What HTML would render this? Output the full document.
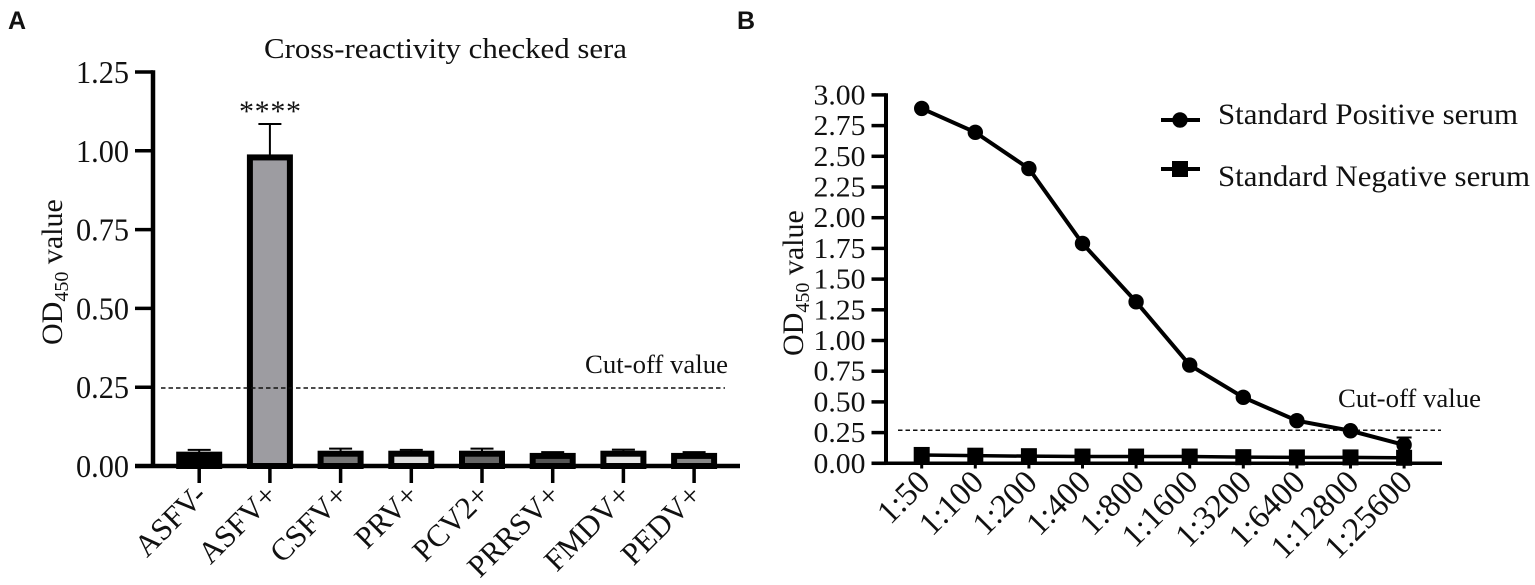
<!DOCTYPE html>
<html>
<head>
<meta charset="utf-8">
<title>Cross-reactivity and standard serum charts</title>
<style>
html,body{margin:0;padding:0;background:#fff;width:1535px;height:585px;overflow:hidden}
svg{display:block}
text{font-family:"Liberation Serif",serif;fill:#111}
.panel{font-family:"Liberation Sans",sans-serif;font-weight:bold;font-size:25px}
</style>
</head>
<body>
<svg id="figure" width="1535" height="585" viewBox="0 0 1535 585" xmlns="http://www.w3.org/2000/svg">
  <g id="a"></g>
  <g id="b"></g>
  <text class="panel" x="8" y="29">A</text>
  <text class="panel" x="737" y="29">B</text>
  <text x="264" y="58" font-size="29" textLength="363" lengthAdjust="spacingAndGlyphs">Cross-reactivity checked sera</text>
  <text x="270" y="121" font-size="30" text-anchor="middle" textLength="62">****</text>
  <text x="585" y="373" font-size="26" textLength="143" lengthAdjust="spacingAndGlyphs">Cut-off value</text>
  <text transform="translate(62,345) rotate(-90)" font-size="30">OD<tspan font-size="20" dy="6">450</tspan><tspan dy="-6"> value</tspan></text>
  <text x="1338" y="407" font-size="26" textLength="143" lengthAdjust="spacingAndGlyphs">Cut-off value</text>
  <text transform="translate(803,356) rotate(-90)" font-size="30">OD<tspan font-size="20" dy="6">450</tspan><tspan dy="-6"> value</tspan></text>

  <g>
    <line x1="1161" x2="1200" y1="120" y2="120" stroke="#000" stroke-width="4"></line>
    <circle cx="1180" cy="120" r="7.7" fill="#000"></circle>
    <text x="1218" y="124" font-size="30" textLength="300" lengthAdjust="spacingAndGlyphs">Standard Positive serum</text>
  </g>
  <g>
    <line x1="1161" x2="1200" y1="169" y2="169" stroke="#000" stroke-width="4"></line>
    <rect x="1172" y="161" width="16" height="16" fill="#000"></rect>
    <text x="1218" y="186" font-size="30" textLength="312" lengthAdjust="spacingAndGlyphs">Standard Negative serum</text>
  </g>
</svg>
<script>
var barCategories = ['ASFV-','ASFV+','CSFV+','PRV+','PCV2+','PRRSV+','FMDV+','PEDV+'];
var barValues = [0.036,0.979,0.039,0.039,0.039,0.032,0.039,0.032];
var barErrorTops = [0.051,1.085,0.055,0.051,0.055,0.044,0.052,0.044];
var barFills = ['#000000','#9d9ca1','#777777','#dddddd','#666666','#555555','#e6e6e6','#888888'];
var barTicks = ['0.00','0.25','0.50','0.75','1.00','1.25'];
var barCutoff = 0.2475;

var lineCategories = ['1:50','1:100','1:200','1:400','1:800','1:1600','1:3200','1:6400','1:12800','1:25600'];
var positiveValues = [2.89,2.695,2.40,1.79,1.315,0.80,0.537,0.347,0.265,0.15];
var negativeValues = [0.068,0.062,0.058,0.055,0.055,0.055,0.05,0.048,0.048,0.045];
var positiveErrorTops = [2.89,2.695,2.40,1.79,1.315,0.80,0.537,0.347,0.265,0.21];
var lineTicks = ['0.00','0.25','0.50','0.75','1.00','1.25','1.50','1.75','2.00','2.25','2.50','2.75','3.00'];
var lineCutoff = 0.269;

var NS = 'http://www.w3.org/2000/svg';
function mk(parent, tag, attrs, txt){
  var el = document.createElementNS(NS, tag);
  for (var k in attrs) el.setAttribute(k, attrs[k]);
  if (txt !== undefined) el.textContent = txt;
  parent.appendChild(el);
  return el;
}

/* Panel A */
var A = document.getElementById('a');
function ax(i){ return 199.2 + i * 70.7; }
function ay(v){ return 466 - v * 315.2; }
var el;
barTicks.forEach(function(t){
  var y = ay(parseFloat(t));
  el = mk(A,'line',{x1:135,x2:153,y1:y,y2:y,stroke:'#000','stroke-width':3.5});
  
  
  el = mk(A,'text',{x:129,y:y+11,'font-size':32,'text-anchor':'end',textLength:53,lengthAdjust:'spacingAndGlyphs'},t);
  
  
});
barCategories.forEach(function(c,i){
  var x = ax(i);
  var barW = 40;
  var top = ay(barValues[i]);
  el = mk(A,'line',{x1:x,x2:x,y1:top,y2:ay(barErrorTops[i]),stroke:'#000','stroke-width':2});
  
  
  el = mk(A,'line',{x1:x-11.5,x2:x+11.5,y1:ay(barErrorTops[i]),y2:ay(barErrorTops[i]),stroke:'#000','stroke-width':2});
  
  
  el = mk(A,'rect',{x:x-barW/2,y:top,width:barW,height:ay(0)-top,fill:barFills[i],stroke:'#000','stroke-width':6});
  
  
  el = mk(A,'line',{x1:x,x2:x,y1:466,y2:483,stroke:'#000','stroke-width':3.5});
  
  
  el = mk(A,'text',{transform:'translate('+(x+9)+',497) rotate(-45)','font-size':31,'text-anchor':'end'},c);
  
  
});
el = mk(A,'line',{x1:153,x2:153,y1:ay(1.25)-1.7,y2:468,stroke:'#000','stroke-width':4.5});


el = mk(A,'line',{x1:135,x2:740,y1:466,y2:466,stroke:'#000','stroke-width':4.5});


el = mk(A,'line',{x1:161,x2:725,y1:ay(barCutoff),y2:ay(barCutoff),stroke:'#111','stroke-width':1.5,'stroke-dasharray':'4.5 3'});



/* Panel B */
var B = document.getElementById('b');
function bx(i){ return 921.7 + i * 53.6; }
function by(v){ return 463.3 - v * 122.8; }
lineTicks.forEach(function(t){
  var y = by(parseFloat(t));
  el = mk(B,'line',{x1:871.5,x2:886,y1:y,y2:y,stroke:'#000','stroke-width':3.5});
  
  
  el = mk(B,'text',{x:865.5,y:y+9.5,'font-size':29,'text-anchor':'end',textLength:52,lengthAdjust:'spacingAndGlyphs'},t);
  
  
});
lineCategories.forEach(function(c,i){
  var x = bx(i);
  el = mk(B,'line',{x1:x,x2:x,y1:463,y2:468.5,stroke:'#000','stroke-width':3});
  
  
  el = mk(B,'text',{transform:'translate('+(x+10)+',484) rotate(-45)','font-size':33,'text-anchor':'end'},c);
  
  
});
el = mk(B,'line',{x1:886,x2:886,y1:by(3)-1.7,y2:465,stroke:'#000','stroke-width':4});


el = mk(B,'line',{x1:871.5,x2:1442,y1:463.3,y2:463.3,stroke:'#000','stroke-width':3.5});


el = mk(B,'line',{x1:898,x2:1441,y1:by(lineCutoff),y2:by(lineCutoff),stroke:'#111','stroke-width':1.5,'stroke-dasharray':'4.5 3'});


function pts(vals){ return vals.map(function(v,i){ return bx(i)+','+by(v); }).join(' '); }
el = mk(B,'polyline',{points:pts(negativeValues),fill:'none',stroke:'#000','stroke-width':3.5});


el = mk(B,'polyline',{points:pts(positiveValues),fill:'none',stroke:'#000','stroke-width':4});


positiveValues.forEach(function(v,i){
  var x = bx(i);
  if (positiveErrorTops[i] > v) {
    el = mk(B,'line',{x1:x,x2:x,y1:by(v),y2:by(positiveErrorTops[i]),stroke:'#000','stroke-width':2});
    
    
    el = mk(B,'line',{x1:x-7.5,x2:x+7.5,y1:by(positiveErrorTops[i]),y2:by(positiveErrorTops[i]),stroke:'#000','stroke-width':2});
    
    
  }
  el = mk(B,'circle',{cx:x,cy:by(v),r:7.7,fill:'#000'});
  
  
});
negativeValues.forEach(function(v,i){
  el = mk(B,'rect',{x:bx(i)-8,y:by(v)-8,width:16,height:16,fill:'#000'});
  
  
});
</script>
</body>
</html>
